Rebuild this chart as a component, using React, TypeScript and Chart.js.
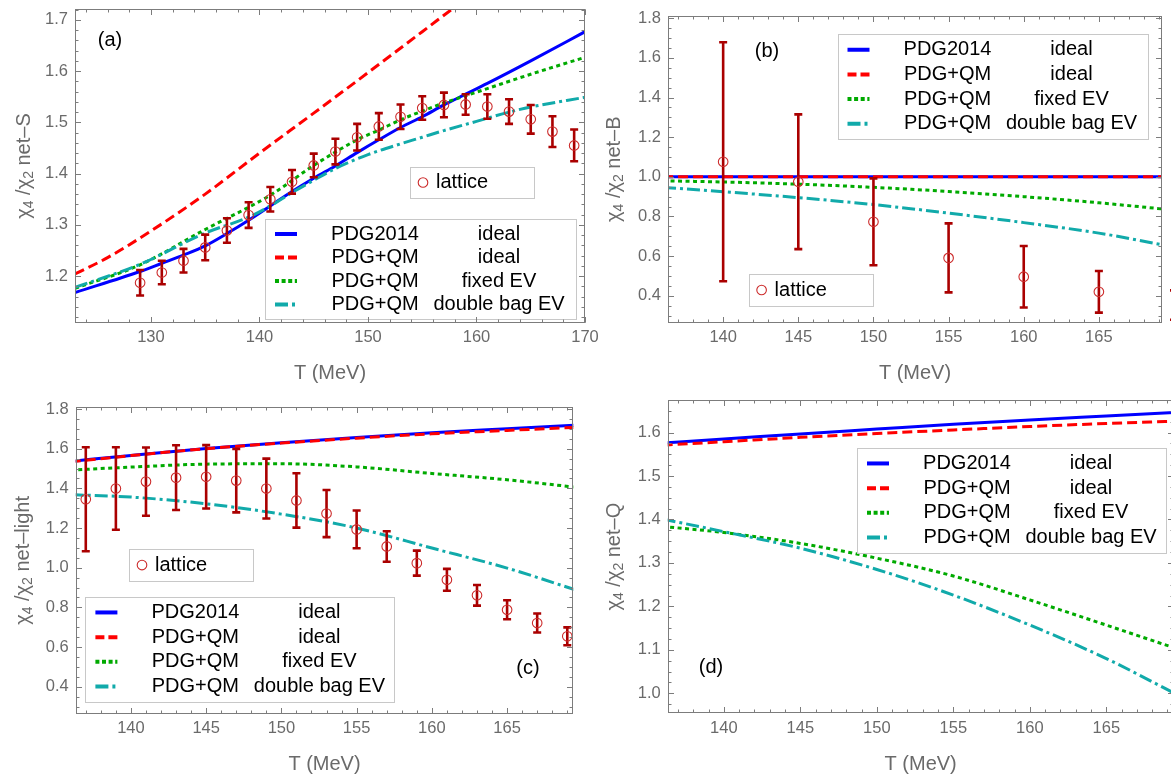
import React, { useEffect, useRef } from 'react';
import { Chart, registerables } from 'chart.js';

Chart.register(...registerables);

const FONT = "'Liberation Sans', Arial, Helvetica, sans-serif";

// ---------------- Panel (a): net-S ----------------
const A_T_PDG = [123, 129, 131, 133, 135, 137, 139, 141, 143, 145, 147, 149, 151, 153, 155, 157, 159, 161, 165, 170];
const A_PDG2014 = [1.168, 1.209, 1.225, 1.241, 1.259, 1.283, 1.309, 1.337, 1.365, 1.391, 1.415, 1.441, 1.466, 1.490, 1.511, 1.534, 1.555, 1.576, 1.620, 1.677];
const A_T_QM = [123, 126, 130, 135, 140, 145, 150, 155, 158];
const A_QM_IDEAL = [1.204, 1.236, 1.288, 1.360, 1.440, 1.518, 1.597, 1.677, 1.725];
const A_T_FIX = [123, 129, 135, 141, 145, 147, 149, 151, 153, 155, 157, 159, 161, 165, 170];
const A_QM_FIXED = [1.176, 1.222, 1.291, 1.358, 1.416, 1.442, 1.466, 1.485, 1.505, 1.522, 1.538, 1.552, 1.566, 1.594, 1.627];
const A_T_BAG = [123, 129, 135, 139, 141, 143, 145, 147, 150, 153, 155, 157, 160, 163, 165, 170];
const A_QM_BAG = [1.178, 1.223, 1.284, 1.315, 1.337, 1.363, 1.387, 1.410, 1.437, 1.458, 1.471, 1.484, 1.502, 1.520, 1.530, 1.549];
const A_LAT_T = [129, 131, 133, 135, 137, 139, 141, 143, 145, 147, 149, 151, 153, 155, 157, 159, 161, 163, 165, 167, 169];
const A_LAT_V = [1.187, 1.207, 1.230, 1.256, 1.289, 1.319, 1.350, 1.384, 1.416, 1.443, 1.471, 1.492, 1.511, 1.528, 1.534, 1.535, 1.531, 1.521, 1.506, 1.482, 1.455];
const A_LAT_ERR = [0.025, 0.023, 0.023, 0.025, 0.024, 0.025, 0.024, 0.023, 0.023, 0.025, 0.026, 0.026, 0.024, 0.023, 0.024, 0.020, 0.024, 0.024, 0.028, 0.030, 0.031];

// ---------------- Panel (b): net-B ----------------
const B_T_IDEAL = [136, 170];
const B_PDG2014 = [1.0, 1.0];
const B_QM_IDEAL = [1.0, 1.0];
const B_T = [136, 140, 145, 150, 155, 160, 165, 170];
const B_QM_FIXED = [0.980, 0.974, 0.963, 0.947, 0.926, 0.900, 0.869, 0.832];
const B_QM_BAG = [0.947, 0.925, 0.895, 0.860, 0.817, 0.769, 0.716, 0.646];
const B_LAT_T = [140, 145, 150, 155, 160, 165, 170];
const B_LAT_V = [1.076, 0.975, 0.773, 0.591, 0.496, 0.420, 0.353];
const B_LAT_ERR = [0.603, 0.340, 0.219, 0.174, 0.155, 0.105, 0.074];

// ---------------- Panel (c): net-light ----------------
const C_T = [136, 140, 145, 150, 155, 160, 165, 170];
const C_PDG2014 = [1.536, 1.566, 1.601, 1.630, 1.656, 1.680, 1.700, 1.720];
const C_QM_IDEAL = [1.534, 1.565, 1.600, 1.628, 1.653, 1.675, 1.692, 1.709];
const C_QM_FIXED = [1.492, 1.507, 1.522, 1.524, 1.508, 1.475, 1.443, 1.402];
const C_QM_BAG = [1.368, 1.356, 1.322, 1.270, 1.200, 1.099, 0.998, 0.877];
const C_LAT_T = [137, 139, 141, 143, 145, 147, 149, 151, 153, 155, 157, 159, 161, 163, 165, 167, 169];
const C_LAT_V = [1.345, 1.399, 1.434, 1.454, 1.458, 1.439, 1.399, 1.339, 1.273, 1.193, 1.107, 1.023, 0.939, 0.861, 0.788, 0.721, 0.654];
const C_LAT_ERR = [0.262, 0.208, 0.172, 0.163, 0.160, 0.160, 0.151, 0.137, 0.119, 0.095, 0.077, 0.063, 0.055, 0.052, 0.048, 0.048, 0.045];

// ---------------- Panel (d): net-Q ----------------
const D_T = [136, 140, 145, 150, 155, 160, 165, 170];
const D_PDG2014 = [1.576, 1.585, 1.597, 1.608, 1.619, 1.629, 1.638, 1.647];
const D_QM_IDEAL = [1.571, 1.579, 1.589, 1.598, 1.606, 1.614, 1.621, 1.627];
const D_QM_FIXED = [1.384, 1.370, 1.345, 1.311, 1.270, 1.215, 1.157, 1.098];
const D_QM_BAG = [1.401, 1.372, 1.334, 1.285, 1.226, 1.157, 1.080, 0.990];

// ---------------- Ticks ----------------
const A_X_TICKS = [130, 140, 150, 160, 170];
const A_Y_TICKS = [1.2, 1.3, 1.4, 1.5, 1.6, 1.7];
const BCD_X_TICKS = [140, 145, 150, 155, 160, 165];
const BC_Y_TICKS = [0.4, 0.6, 0.8, 1.0, 1.2, 1.4, 1.6, 1.8];
const D_Y_TICKS = [1.0, 1.1, 1.2, 1.3, 1.4, 1.5, 1.6];

const LEGEND_COL1 = ['PDG2014', 'PDG+QM', 'PDG+QM', 'PDG+QM'];
const LEGEND_COL2 = ['ideal', 'ideal', 'fixed EV', 'double bag EV'];

// ---------------- Styles ----------------
const STYLES = [
  { color: '#0000ff', dash: [] as number[], legendDash: [] as number[], order: 5 },
  { color: '#ff0000', dash: [10, 5], legendDash: [9, 4], order: 4 },
  { color: '#00aa00', dash: [4, 3.5], legendDash: [4, 2.6], order: 3 },
  { color: '#11aaaa', dash: [13, 4, 3, 4], legendDash: [13, 4, 3, 4], order: 2 },
];
const ERR_COLOR = '#aa0000';
const CIRCLE_COLOR = '#cc2b2b';
const FRAME_COLOR = '#7c7c7c';
const LABEL_COLOR = '#6a6a6a';

function steps(a: number, b: number, s: number) {
  const out: number[] = [];
  for (let v = a; v <= b + 1e-9; v += s) out.push(+v.toFixed(4));
  return out;
}

type Box = { x: number; y: number; w: number; h: number };
type Spec = {
  left: number; top: number; width: number; height: number;
  yW: number; padTop: number; padRight: number; xH: number;
  xMin: number; xMax: number; yMin: number; yMax: number;
  xMajor: number[]; xMinor: number[]; yMajor: number[]; yMinor: number[];
  curves: { xs: number[]; ys: number[] }[];
  lattice?: { xs: number[]; ys: number[]; errs: number[]; clip: boolean };
  ySuffix: string; yTitleX: number;
  legend: Box; latLegend?: Box;
  label: { text: string; x: number; y: number };
};

function drawLegend(ctx: CanvasRenderingContext2D, b: Box) {
  ctx.save();
  ctx.fillStyle = '#ffffff';
  ctx.fillRect(b.x, b.y, b.w, b.h);
  ctx.strokeStyle = '#c8c8c8';
  ctx.lineWidth = 1;
  ctx.strokeRect(Math.round(b.x) + 0.5, Math.round(b.y) + 0.5, Math.round(b.w), Math.round(b.h));
  for (let i = 0; i < 4; i++) {
    const cy = b.y + b.h * (0.15 + 0.235 * i);
    const st = STYLES[i];
    ctx.strokeStyle = st.color;
    ctx.lineWidth = 4;
    ctx.setLineDash(st.legendDash);
    ctx.beginPath();
    ctx.moveTo(b.x + 10, cy);
    ctx.lineTo(b.x + 32, cy);
    ctx.stroke();
    ctx.setLineDash([]);
    ctx.fillStyle = '#000000';
    ctx.font = `20px ${FONT}`;
    ctx.textAlign = 'center';
    ctx.textBaseline = 'middle';
    ctx.fillText(LEGEND_COL1[i], b.x + 110, cy);
    ctx.fillText(LEGEND_COL2[i], b.x + 234, cy);
  }
  ctx.restore();
}

function drawLatLegend(ctx: CanvasRenderingContext2D, b: Box) {
  ctx.save();
  ctx.fillStyle = '#ffffff';
  ctx.fillRect(b.x, b.y, b.w, b.h);
  ctx.strokeStyle = '#c8c8c8';
  ctx.lineWidth = 1;
  ctx.strokeRect(Math.round(b.x) + 0.5, Math.round(b.y) + 0.5, Math.round(b.w), Math.round(b.h));
  const cy = b.y + b.h / 2;
  ctx.strokeStyle = CIRCLE_COLOR;
  ctx.lineWidth = 1.1;
  ctx.beginPath();
  ctx.arc(b.x + 13, cy, 4.8, 0, Math.PI * 2);
  ctx.stroke();
  ctx.fillStyle = '#000000';
  ctx.font = `20px ${FONT}`;
  ctx.textAlign = 'left';
  ctx.textBaseline = 'middle';
  ctx.fillText('lattice', b.x + 26, cy);
  ctx.restore();
}

function drawYTitle(ctx: CanvasRenderingContext2D, suffix: string, cx: number, cy: number) {
  const parts = [
    { t: 'χ', sub: false }, { t: '4', sub: true }, { t: ' /', sub: false },
    { t: 'χ', sub: false }, { t: '2', sub: true }, { t: ' ' + suffix, sub: false },
  ];
  const main = `20px ${FONT}`;
  const small = `14px ${FONT}`;
  ctx.save();
  ctx.translate(cx, cy);
  ctx.rotate(-Math.PI / 2);
  ctx.fillStyle = LABEL_COLOR;
  ctx.textBaseline = 'middle';
  ctx.textAlign = 'left';
  let total = 0;
  const ws = parts.map((p) => {
    ctx.font = p.sub ? small : main;
    const w = ctx.measureText(p.t).width;
    total += w;
    return w;
  });
  let x = -total / 2;
  parts.forEach((p, i) => {
    ctx.font = p.sub ? small : main;
    ctx.fillText(p.t, x, p.sub ? 5 : 0);
    x += ws[i];
  });
  ctx.restore();
}

function makePlugin(spec: Spec) {
  return {
    id: 'decor',
    beforeDatasetDraw(chart: any, args: any) {
      const ds = chart.data.datasets[args.index];
      if (!spec.lattice || ds.label !== 'lattice') return;
      const { ctx } = chart;
      const xs = chart.scales.x;
      const ys = chart.scales.y;
      ctx.save();
      ctx.strokeStyle = ERR_COLOR;
      ctx.lineWidth = 2.6;
      const L = spec.lattice;
      L.xs.forEach((t, i) => {
        const px = xs.getPixelForValue(t);
        const y1 = ys.getPixelForValue(L.ys[i] + L.errs[i]);
        const y2 = ys.getPixelForValue(L.ys[i] - L.errs[i]);
        ctx.beginPath();
        ctx.moveTo(px, y1);
        ctx.lineTo(px, y2);
        ctx.moveTo(px - 4, y1);
        ctx.lineTo(px + 4, y1);
        ctx.moveTo(px - 4, y2);
        ctx.lineTo(px + 4, y2);
        ctx.stroke();
      });
      ctx.restore();
    },
    afterDraw(chart: any) {
      const { ctx, chartArea: ca } = chart;
      const xs = chart.scales.x;
      const ys = chart.scales.y;
      if (spec.latLegend) drawLatLegend(ctx, spec.latLegend);
      drawLegend(ctx, spec.legend);
      // frame
      ctx.save();
      ctx.strokeStyle = FRAME_COLOR;
      ctx.lineWidth = 1;
      const l = Math.round(ca.left) + 0.5;
      const r = Math.round(ca.right) - 0.5;
      const t = Math.round(ca.top) + 0.5;
      const b = Math.round(ca.bottom) - 0.5;
      ctx.strokeRect(l, t, r - l, b - t);
      const tickX = (vals: number[], len: number) => {
        vals.forEach((v) => {
          if (v < spec.xMin || v > spec.xMax) return;
          const px = Math.round(xs.getPixelForValue(v)) + 0.5;
          ctx.beginPath();
          ctx.moveTo(px, b);
          ctx.lineTo(px, b - len);
          ctx.moveTo(px, t);
          ctx.lineTo(px, t + len);
          ctx.stroke();
        });
      };
      const tickY = (vals: number[], len: number) => {
        vals.forEach((v) => {
          if (v < spec.yMin || v > spec.yMax) return;
          const py = Math.round(ys.getPixelForValue(v)) + 0.5;
          ctx.beginPath();
          ctx.moveTo(l, py);
          ctx.lineTo(l + len, py);
          ctx.moveTo(r, py);
          ctx.lineTo(r - len, py);
          ctx.stroke();
        });
      };
      tickX(spec.xMinor, 3);
      tickY(spec.yMinor, 3);
      tickX(spec.xMajor, 5.5);
      tickY(spec.yMajor, 5.5);
      ctx.restore();
      // titles
      ctx.save();
      ctx.fillStyle = LABEL_COLOR;
      ctx.font = `20px ${FONT}`;
      ctx.textAlign = 'center';
      ctx.textBaseline = 'middle';
      ctx.fillText('T (MeV)', (ca.left + ca.right) / 2, ca.bottom + 51);
      ctx.restore();
      drawYTitle(ctx, spec.ySuffix, spec.yTitleX, (ca.top + ca.bottom) / 2);
      ctx.save();
      ctx.fillStyle = '#000000';
      ctx.font = `20px ${FONT}`;
      ctx.textAlign = 'center';
      ctx.textBaseline = 'middle';
      ctx.fillText(spec.label.text, spec.label.x, spec.label.y);
      ctx.restore();
    },
  };
}

function Panel({ spec }: { spec: Spec }) {
  const ref = useRef<HTMLCanvasElement | null>(null);
  useEffect(() => {
    if (!ref.current) return;
    const datasets: any[] = spec.curves.map((c, i) => ({
      label: `curve${i}`,
      data: c.xs.map((x, k) => ({ x, y: c.ys[k] })),
      showLine: true,
      borderColor: STYLES[i].color,
      borderWidth: 3,
      borderDash: STYLES[i].dash,
      pointRadius: 0,
      pointHoverRadius: 0,
      fill: false,
      cubicInterpolationMode: 'monotone',
      order: STYLES[i].order,
    }));
    if (spec.lattice) {
      const L = spec.lattice;
      datasets.push({
        label: 'lattice',
        data: L.xs.map((x, k) => ({ x, y: L.ys[k] })),
        showLine: false,
        pointRadius: 4.8,
        pointHoverRadius: 4.8,
        pointBorderWidth: 1.1,
        borderColor: CIRCLE_COLOR,
        backgroundColor: 'rgba(0,0,0,0)',
        pointBackgroundColor: 'rgba(0,0,0,0)',
        order: 1,
        clip: L.clip ? undefined : false,
      });
    }
    const tickFont = { family: FONT, size: 16.5 };
    const chart = new Chart(ref.current, {
      type: 'scatter',
      data: { datasets },
      options: {
        responsive: false,
        maintainAspectRatio: false,
        animation: false,
        devicePixelRatio: 1,
        layout: { padding: { left: 0, top: spec.padTop, right: spec.padRight, bottom: 0 } },
        plugins: { legend: { display: false }, tooltip: { enabled: false }, title: { display: false } },
        scales: {
          x: {
            type: 'linear',
            min: spec.xMin,
            max: spec.xMax,
            grid: { display: false, drawTicks: false },
            border: { display: false },
            ticks: { font: tickFont, color: LABEL_COLOR, padding: 5, autoSkip: false, maxRotation: 0, callback: (v: any) => String(Number(v)) },
            afterBuildTicks: (s: any) => { s.ticks = spec.xMajor.map((v) => ({ value: v })); },
            afterFit: (s: any) => { s.height = spec.xH; s.paddingLeft = 0; s.paddingRight = 0; },
          },
          y: {
            type: 'linear',
            min: spec.yMin,
            max: spec.yMax,
            grid: { display: false, drawTicks: false },
            border: { display: false },
            ticks: { font: tickFont, color: LABEL_COLOR, padding: 7, autoSkip: false, callback: (v: any) => Number(v).toFixed(1) },
            afterBuildTicks: (s: any) => { s.ticks = spec.yMajor.map((v) => ({ value: v })); },
            afterFit: (s: any) => { s.width = spec.yW; s.paddingTop = 0; s.paddingBottom = 0; },
          },
        },
      } as any,
      plugins: [makePlugin(spec) as any],
    });
    return () => chart.destroy();
  }, [spec]);
  return (
    <canvas
      ref={ref}
      width={spec.width}
      height={spec.height}
      style={{ position: 'absolute', left: spec.left, top: spec.top, width: spec.width, height: spec.height }}
    />
  );
}

const SPECS: Spec[] = [
  {
    left: 0, top: 0, width: 620, height: 390,
    yW: 75, padTop: 9.3, padRight: 35, xH: 67.3,
    xMin: 123, xMax: 170, yMin: 1.109, yMax: 1.7207,
    xMajor: A_X_TICKS, xMinor: steps(124, 170, 2), yMajor: A_Y_TICKS, yMinor: steps(1.12, 1.72, 0.02),
    curves: [
      { xs: A_T_PDG, ys: A_PDG2014 },
      { xs: A_T_QM, ys: A_QM_IDEAL },
      { xs: A_T_FIX, ys: A_QM_FIXED },
      { xs: A_T_BAG, ys: A_QM_BAG },
    ],
    lattice: { xs: A_LAT_T, ys: A_LAT_V, errs: A_LAT_ERR, clip: true },
    ySuffix: 'net–S', yTitleX: 24,
    legend: { x: 265, y: 219, w: 311, h: 100 },
    latLegend: { x: 410, y: 167, w: 124, h: 31 },
    label: { text: '(a)', x: 110, y: 40 },
  },
  {
    left: 590, top: 0, width: 581, height: 390,
    yW: 78, padTop: 15.7, padRight: 9, xH: 67.3,
    xMin: 136.33, xMax: 169.2, yMin: 0.264, yMax: 1.813,
    xMajor: BCD_X_TICKS, xMinor: steps(137, 169, 1), yMajor: BC_Y_TICKS, yMinor: steps(0.3, 1.8, 0.05),
    curves: [
      { xs: B_T_IDEAL, ys: B_PDG2014 },
      { xs: B_T_IDEAL, ys: B_QM_IDEAL },
      { xs: B_T, ys: B_QM_FIXED },
      { xs: B_T, ys: B_QM_BAG },
    ],
    lattice: { xs: B_LAT_T, ys: B_LAT_V, errs: B_LAT_ERR, clip: false },
    ySuffix: 'net–B', yTitleX: 24,
    legend: { x: 247.5, y: 34, w: 310, h: 105 },
    latLegend: { x: 158.6, y: 274, w: 124, h: 32 },
    label: { text: '(b)', x: 177, y: 51 },
  },
  {
    left: 0, top: 390, width: 590, height: 390,
    yW: 75.7, padTop: 17.3, padRight: 16.7, xH: 66.5,
    xMin: 136.33, xMax: 169.4, yMin: 0.265, yMax: 1.8085,
    xMajor: BCD_X_TICKS, xMinor: steps(137, 169, 1), yMajor: BC_Y_TICKS, yMinor: steps(0.3, 1.8, 0.05),
    curves: [
      { xs: C_T, ys: C_PDG2014 },
      { xs: C_T, ys: C_QM_IDEAL },
      { xs: C_T, ys: C_QM_FIXED },
      { xs: C_T, ys: C_QM_BAG },
    ],
    lattice: { xs: C_LAT_T, ys: C_LAT_V, errs: C_LAT_ERR, clip: true },
    ySuffix: 'net–light', yTitleX: 23,
    legend: { x: 85.4, y: 206.7, w: 309, h: 105 },
    latLegend: { x: 129, y: 159.3, w: 124, h: 31.5 },
    label: { text: '(c)', x: 528, y: 278 },
  },
  {
    left: 590, top: 390, width: 600, height: 390,
    yW: 77.7, padTop: 10, padRight: 16.4, xH: 66.7,
    xMin: 136.33, xMax: 169.4, yMin: 0.954, yMax: 1.675,
    xMajor: BCD_X_TICKS, xMinor: steps(137, 169, 1), yMajor: D_Y_TICKS, yMinor: steps(0.975, 1.675, 0.025),
    curves: [
      { xs: D_T, ys: D_PDG2014 },
      { xs: D_T, ys: D_QM_IDEAL },
      { xs: D_T, ys: D_QM_FIXED },
      { xs: D_T, ys: D_QM_BAG },
    ],
    ySuffix: 'net–Q', yTitleX: 24,
    legend: { x: 267, y: 57.7, w: 309, h: 105 },
    label: { text: '(d)', x: 121, y: 277 },
  },
];

export default function App() {
  return (
    <div style={{ position: 'absolute', left: 0, top: 0, width: 1171, height: 780, overflow: 'hidden', background: '#ffffff' }}>
      {SPECS.map((s, i) => (
        <Panel key={i} spec={s} />
      ))}
    </div>
  );
}
